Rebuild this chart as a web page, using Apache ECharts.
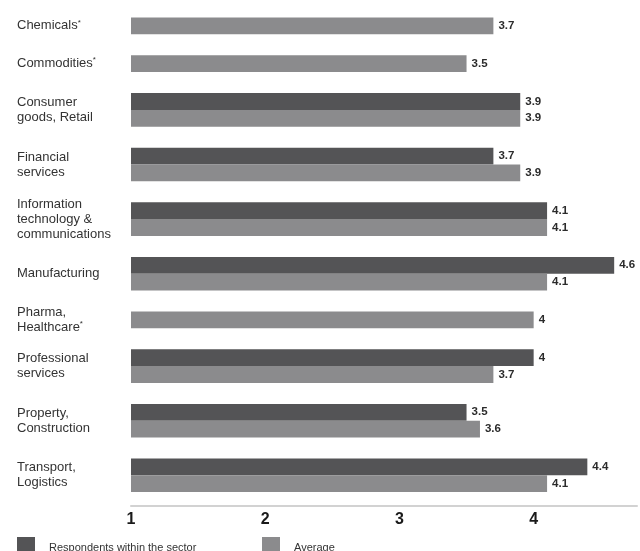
<!DOCTYPE html>
<html><head><meta charset="utf-8">
<script src="https://cdn.jsdelivr.net/npm/echarts@6/dist/echarts.min.js"></script>
<style>html,body{margin:0;padding:0;background:#fff}#c{width:640px;height:551px}</style>
</head><body><div id="c"></div>
<script>
// ---- data ----
const categories = ['Chemicals*', 'Commodities*', 'Consumer\ngoods, Retail', 'Financial\nservices',
  'Information\ntechnology &\ncommunications', 'Manufacturing', 'Pharma,\nHealthcare*',
  'Professional\nservices', 'Property,\nConstruction', 'Transport,\nLogistics'];
const respondents = [null, null, 3.9, 3.7, 4.1, 4.6, null, 4, 3.5, 4.4];
const average = [3.7, 3.5, 3.9, 3.9, 4.1, 4.1, 4, 3.7, 3.6, 4.1];
const seriesNames = ['Respondents within the sector', 'Average'];
const xTickValues = [1, 2, 3, 4];

// ---- layout (not data) ----
const FONT = '"Liberation Sans", Arial, sans-serif';
const AXIS_MIN = 1, AXIS_MAX = 4.77;
const BAR = 16.8, GAP = 21, BOTTOM_PAD = 13.4;
const DARK = '#545456', LIGHT = '#8b8b8d';

let pos = 0;
const centers = [], respRows = [], avgRows = [];
categories.forEach((c, i) => {
  const two = respondents[i] != null;
  const h = two ? 2 * BAR : BAR;
  centers.push(pos + h / 2);
  if (two) {
    respRows.push([respondents[i], pos + BAR / 2]);
    avgRows.push([average[i], pos + BAR * 1.5]);
  } else {
    avgRows.push([average[i], pos + BAR / 2]);
  }
  pos += h + GAP;
});
const yMax = pos - GAP + BOTTOM_PAD;

function renderBar(params, api) {
  const v = api.value(0), yc = api.value(1);
  const s = api.coord([AXIS_MIN, yc]);
  const e = api.coord([v, yc]);
  const h = api.size([0, BAR])[1];
  return {
    type: 'group',
    children: [
      { type: 'rect', shape: { x: s[0], y: s[1] - h / 2, width: e[0] - s[0], height: h },
        style: { fill: api.visual('color') } },
      { type: 'text', x: e[0] + 5, y: e[1],
        style: { text: String(v), font: 'bold 11.5px ' + FONT, fill: '#2b2b2b',
                 verticalAlign: 'middle', align: 'left' } }
    ]
  };
}

const legendText = { fontSize: 11, color: '#333', fontFamily: FONT, padding: [0, 0, 0, 9] };
const chart = echarts.init(document.getElementById('c'), null, { renderer: 'canvas' });
chart.setOption({
  animation: false,
  backgroundColor: '#fff',
  grid: { left: 131, right: 0, top: 17.5, bottom: 551 - 17.5 - yMax },
  xAxis: {
    type: 'value', min: AXIS_MIN, max: AXIS_MAX, interval: 1,
    axisLine: { show: true, onZero: false, lineStyle: { color: '#d2d2d2', width: 2 } },
    axisTick: { show: false }, splitLine: { show: false },
    axisLabel: {
      margin: 6, fontSize: 16, fontWeight: 'bold', color: '#1a1a1a', fontFamily: FONT,
      formatter: v => xTickValues.indexOf(v) >= 0 ? String(v) : ''
    }
  },
  yAxis: {
    type: 'value', inverse: true, min: 0, max: yMax,
    axisLine: { show: false }, axisTick: { show: false }, splitLine: { show: false },
    axisLabel: {
      customValues: centers,
      align: 'left', margin: 114, fontSize: 13, lineHeight: 15, color: '#333', fontFamily: FONT,
      formatter: function (v) {
        let idx = 0, best = Infinity;
        centers.forEach((c, i) => { const d = Math.abs(c - v); if (d < best) { best = d; idx = i; } });
        return categories[idx].replace('*', '{sup|*}');
      },
      rich: { sup: { fontSize: 8, verticalAlign: 'top', lineHeight: 8, color: '#333', fontFamily: FONT } }
    }
  },
  legend: [
    { data: [{ name: seriesNames[0], icon: 'rect' }], left: 17, top: 537, padding: 0, itemWidth: 18, itemHeight: 21,
      selectedMode: false, textStyle: legendText },
    { data: [{ name: seriesNames[1], icon: 'rect' }], left: 262, top: 537, padding: 0, itemWidth: 18, itemHeight: 21,
      selectedMode: false, textStyle: legendText }
  ],
  series: [
    { name: seriesNames[0], type: 'custom', renderItem: renderBar, data: respRows,
      encode: { x: 0, y: 1 }, itemStyle: { color: DARK }, clip: false },
    { name: seriesNames[1], type: 'custom', renderItem: renderBar, data: avgRows,
      encode: { x: 0, y: 1 }, itemStyle: { color: LIGHT }, clip: false }
  ]
});
</script></body></html>
